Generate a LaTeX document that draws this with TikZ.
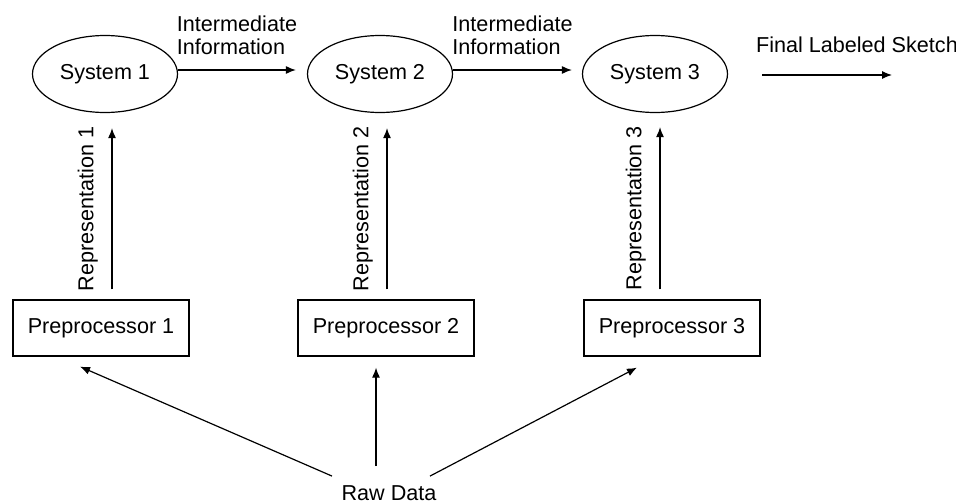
\documentclass[tikz,border=0pt]{standalone}
\usepackage{fontspec}
\setmainfont{Liberation Sans}
\usepackage{tikz}
\usetikzlibrary{shapes,arrows.meta,positioning,calc}

\begin{document}
\begin{tikzpicture}[x=0.5pt,y=-0.5pt,
  font=\fontsize{10.8}{11.5}\selectfont,
  system/.style={draw,ellipse,line width=0.6pt,minimum width=72.5pt,minimum height=38.5pt,inner sep=1pt},
  prep/.style={draw,rectangle,line width=0.6pt,minimum width=88pt,minimum height=28pt},
  flow/.style={-{Latex[length=5pt,width=4pt]},line width=0.6pt}]
\useasboundingbox (0,0) rectangle (956,503);
% systems
\node[system] (s1) at (105,74) {System 1};
\node[system] (s2) at (380,74) {System 2};
\node[system] (s3) at (655,74) {System 3};
% preprocessors
\node[prep] (p1) at (101,328) {Preprocessor 1};
\node[prep] (p2) at (386,328) {Preprocessor 2};
\node[prep] (p3) at (672,328) {Preprocessor 3};
% input and output
\node[anchor=base] (raw) at (389,500) {Raw Data};
\node[anchor=base west] (final) at (749,52) {Final Labeled Sketch};
\coordinate (out) at (892,75);
% system chain
\draw[flow] ([shift={(0,-4)}]s1.east) -- node[above=4pt,align=left] (info1) {Intermediate\\Information} ([shift={(-11,-4)}]s2.west);
\draw[flow] ([shift={(0,-4)}]s2.east) -- node[above=4pt,align=left] (info2) {Intermediate\\Information} ([shift={(-10,-4)}]s3.west);
\draw[flow] ([shift={(34,1)}]s3.east) -- (out);
% representations
\draw[flow] ([shift={(11,-10)}]p1.north) -- node[midway,sloped,above=3.5pt] (rep1) {Representation 1} ([shift={(7,15)}]s1.south);
\draw[flow] ([shift={(1,-10)}]p2.north) -- node[midway,sloped,above=3.5pt] (rep2) {Representation 2} ([shift={(7,15)}]s2.south);
\draw[flow] ([shift={(-12,-10)}]p3.north) -- node[midway,sloped,above=3.5pt] (rep3) {Representation 3} ([shift={(5,14)}]s3.south);
% raw data
\draw[flow] ([shift={(-57,-2)}]raw.north) -- ([shift={(-21,10)}]p1.south);
\draw[flow] ([shift={(-13,-12)}]raw.north) -- ([shift={(-10,11)}]p2.south);
\draw[flow] ([shift={(41,-2)}]raw.north) -- ([shift={(-35,11)}]p3.south);
\end{tikzpicture}
\end{document}
